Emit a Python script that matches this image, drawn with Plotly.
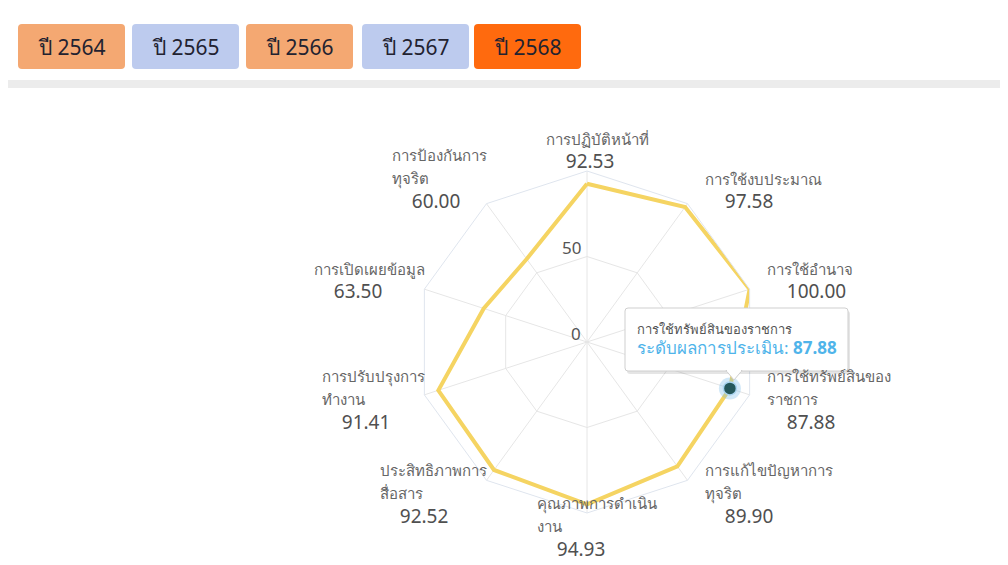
import math
import plotly.graph_objects as go

# ---- data ----
categories = [
    "การปฏิบัติหน้าที่",
    "การใช้งบประมาณ",
    "การใช้อำนาจ",
    "การใช้ทรัพย์สินของ<br>ราชการ",
    "การแก้ไขปัญหาการ<br>ทุจริต",
    "คุณภาพการดำเนิน<br>งาน",
    "ประสิทธิภาพการ<br>สื่อสาร",
    "การปรับปรุงการ<br>ทำงาน",
    "การเปิดเผยข้อมูล",
    "การป้องกันการ<br>ทุจริต",
]
scores = [92.53, 97.58, 100.00, 87.88, 89.90, 94.93, 92.52, 91.41, 63.50, 60.00]
years = ["ปี 2564", "ปี 2565", "ปี 2566", "ปี 2567", "ปี 2568"]
year_colors = ["#f4a872", "#bdcbee", "#f4a872", "#bdcbee", "#ff6a0e"]
hover_index = 3
hover_title = "การใช้ทรัพย์สินของราชการ"
hover_label = "ระดับผลการประเมิน"
radial_ticks = [0, 50, 100]
radial_labels = [0, 50]

# page body has an 8px margin -> figure sits at (8, 8)
OX, OY = 8, 8
W, H = 1000, 557
FONT = "Noto Sans, DejaVu Sans, sans-serif"


def px(x):
    return (x - OX) / W


def py(y):
    return 1 - (y - OY) / H


keys = [c.replace("<br>", "") for c in categories]

fig = go.Figure()
fig.add_trace(go.Scatterpolar(
    r=scores + scores[:1], theta=keys + keys[:1],
    mode="lines", line=dict(color="#f5d462", width=4),
    hoverinfo="skip", showlegend=False,
))
fig.add_trace(go.Scatterpolar(
    r=[scores[hover_index]], theta=[keys[hover_index]], mode="markers",
    marker=dict(size=22, color="rgba(124,190,236,0.35)"),
    hoverinfo="skip", showlegend=False,
))
fig.add_trace(go.Scatterpolar(
    r=[scores[hover_index]], theta=[keys[hover_index]], mode="markers",
    marker=dict(size=13, color="#24585c", line=dict(color="#a9d4f0", width=1.5)),
    hoverinfo="skip", showlegend=False,
))

cx, cy, R = 587, 342, 171
fig.update_layout(
    width=W, height=H, margin=dict(l=0, r=0, t=0, b=0),
    paper_bgcolor="white", plot_bgcolor="white",
    font=dict(family=FONT, color="#555555", size=15),
    polar=dict(
        domain=dict(x=[px(cx - R), px(cx + R)], y=[py(cy + R), py(cy - R)]),
        bgcolor="white",
        gridshape="linear",
        radialaxis=dict(range=[0, 100], tickvals=radial_ticks, showticklabels=False,
                        angle=90, showline=False, ticks="", gridcolor="#e6e6e6"),
        angularaxis=dict(rotation=90, direction="clockwise", gridcolor="#e6e6e6",
                         linecolor="#dfe5ee", ticks="", showticklabels=False),
    ),
)

# radial tick labels, placed from the radial scale
for v in radial_labels:
    fig.add_annotation(xref="paper", yref="paper", x=px(cx - 4), y=py(cy - R * v / 100 - 9),
                       xanchor="right", yanchor="middle", showarrow=False,
                       text=str(v), font=dict(size=17, color="#555"))

# category labels around the web (placed from each axis angle)
n = len(categories)
for i, (cat, val) in enumerate(zip(categories, scores)):
    a = math.radians(360 * i / n)
    s, c = math.sin(a), math.cos(a)
    vx, vy = cx + R * s, cy - R * c
    if abs(s) < 0.1:
        xa, x = "center", vx + 10
    elif s > 0:
        xa, x = "left", vx + 15
    else:
        xa, x = "right", vx + 3
    if c > 0.2:
        ya, y = "bottom", vy + 5 + 12 * abs(s)
    elif c < -0.5:
        ya, y = "top", vy - 22
    else:
        ya, y = "middle", vy + 6
    text = (f"<span style='font-size:15px;color:#666'>{cat}</span><br>"
            f"<span style='font-size:19px;color:#505050'>&nbsp;&nbsp;&nbsp;&nbsp;{val:.2f}</span>")
    fig.add_annotation(xref="paper", yref="paper", x=px(x), y=py(y), xanchor=xa, yanchor=ya,
                       text=text, showarrow=False, align="left", font=dict(size=18))


def rrect(x0, y0, x1, y1, r):
    return (f"M {px(x0 + r)},{py(y0)} L {px(x1 - r)},{py(y0)} Q {px(x1)},{py(y0)} {px(x1)},{py(y0 + r)} "
            f"L {px(x1)},{py(y1 - r)} Q {px(x1)},{py(y1)} {px(x1 - r)},{py(y1)} "
            f"L {px(x0 + r)},{py(y1)} Q {px(x0)},{py(y1)} {px(x0)},{py(y1 - r)} "
            f"L {px(x0)},{py(y0 + r)} Q {px(x0)},{py(y0)} {px(x0 + r)},{py(y0)} Z")


# year buttons
bx = [18, 132, 246, 362, 474]
bw = 107
for x0, label, col in zip(bx, years, year_colors):
    fig.add_shape(type="path", xref="paper", yref="paper", path=rrect(x0, 24, x0 + bw, 69, 4),
                  fillcolor=col, line=dict(width=0), layer="below")
    fig.add_annotation(xref="paper", yref="paper", x=px(x0 + bw / 2), y=py(47),
                       text=label, showarrow=False, font=dict(size=21, color="#222230"),
                       xanchor="center", yanchor="middle")
# divider bar
fig.add_shape(type="rect", xref="paper", yref="paper", x0=px(8), x1=1, y0=py(88), y1=py(80),
              fillcolor="#ececec", line=dict(width=0))

# tooltip
tx0, ty0, tx1, ty1 = 625, 308, 848, 371
fig.add_shape(type="path", xref="paper", yref="paper", path=rrect(tx0 + 2, ty0 + 3, tx1 + 2, ty1 + 3, 3),
              fillcolor="rgba(0,0,0,0.10)", line=dict(width=0))
fig.add_shape(type="path", xref="paper", yref="paper", path=rrect(tx0, ty0, tx1, ty1, 3),
              fillcolor="white", line=dict(color="#cfcfcf", width=1))
fig.add_shape(type="path", xref="paper", yref="paper",
              path=f"M {px(726)},{py(370.5)} L {px(734)},{py(380)} L {px(742)},{py(370.5)} Z",
              fillcolor="white", line=dict(color="#cfcfcf", width=1))
fig.add_shape(type="line", xref="paper", yref="paper", x0=px(727), x1=px(741), y0=py(370.5), y1=py(370.5),
              line=dict(color="white", width=2))
fig.add_annotation(xref="paper", yref="paper", x=px(tx0 + 10), y=py(ty0 + 32),
                   xanchor="left", yanchor="middle", showarrow=False, align="left",
                   text=(f"<span style='font-size:13px;color:#555'>{hover_title}</span><br>"
                         f"<span style='font-size:17px;color:#4fb4ea'>{hover_label}: "
                         f"<b>{scores[hover_index]:.2f}</b></span>"))

fig.write_html("out.html")
